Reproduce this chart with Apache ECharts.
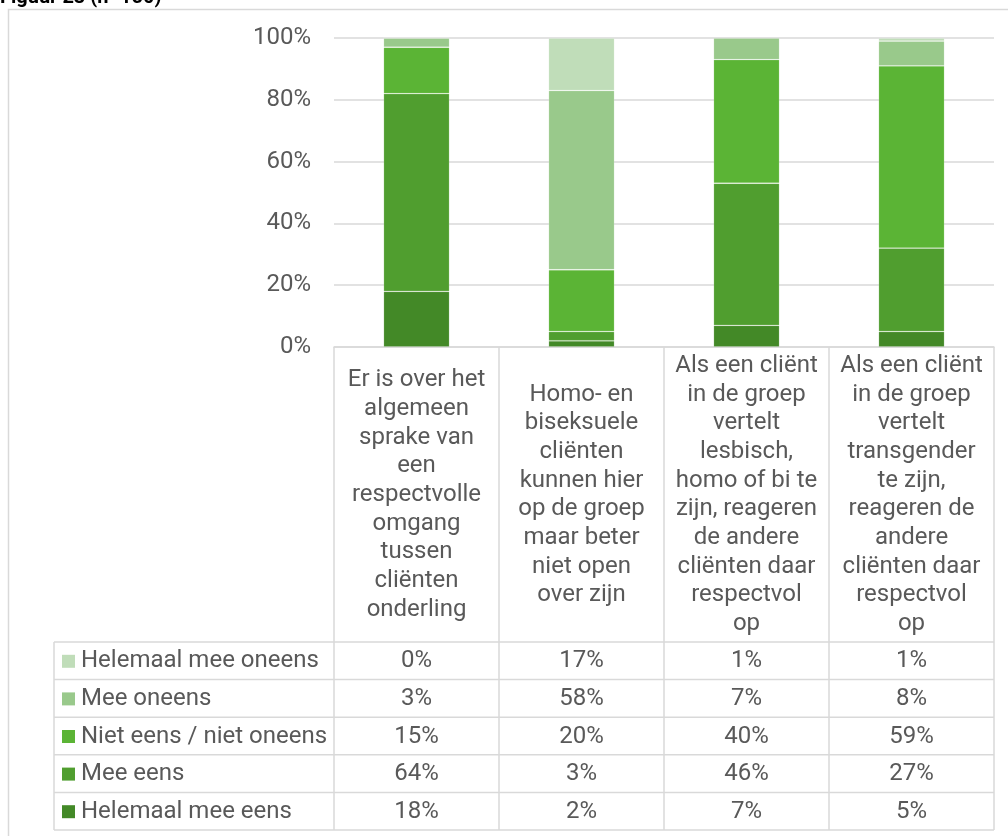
<!DOCTYPE html>
<html>
<head>
<meta charset="utf-8">
<script src="https://cdn.jsdelivr.net/npm/echarts@6/dist/echarts.min.js"></script>
<style>
  html, body { margin: 0; padding: 0; background: #ffffff; }
  #chart { width: 1008px; height: 836px; }
</style>
</head>
<body>
<div id="chart"></div>
<script>
// Statements (x-axis categories), wrapped as printed in the table header
const categories = [
  'Er is over het\nalgemeen\nsprake van\neen\nrespectvolle\nomgang\ntussen\ncliënten\nonderling',
  'Homo- en\nbiseksuele\ncliënten\nkunnen hier\nop de groep\nmaar beter\nniet open\nover zijn',
  'Als een cliënt\nin de groep\nvertelt\nlesbisch,\nhomo of bi te\nzijn, reageren\nde andere\ncliënten daar\nrespectvol\nop',
  'Als een cliënt\nin de groep\nvertelt\ntransgender\nte zijn,\nreageren de\nandere\ncliënten daar\nrespectvol\nop'
];

// Answer shares in percent, one array per answer option
const helemaalMeeOneens   = [0, 17, 1, 1];
const meeOneens           = [3, 58, 7, 8];
const nietEensNietOneens  = [15, 20, 40, 59];
const meeEens             = [64, 3, 46, 27];
const helemaalMeeEens     = [18, 2, 7, 5];

const yTicks = [0, 20, 40, 60, 80, 100];

// Rows of the data table, top to bottom
const tableRows = [
  { name: 'Helemaal mee oneens',     values: helemaalMeeOneens,  color: '#C0DDB9' },
  { name: 'Mee oneens',              values: meeOneens,          color: '#99C98B' },
  { name: 'Niet eens / niet oneens', values: nietEensNietOneens, color: '#5BB435' },
  { name: 'Mee eens',                values: meeEens,            color: '#509E2F' },
  { name: 'Helemaal mee eens',       values: helemaalMeeEens,    color: '#438927' }
];

const FONT = 'Roboto, "Noto Sans", sans-serif';
const FS = 24;
const TEXT = '#595959';
const LINE = '#D9D9D9';

const chart = echarts.init(document.getElementById('chart'), null, { renderer: 'canvas' });

// Stack from the bottom: last table row first
const stackOrder = tableRows.slice().reverse();

const option = {
  animation: false,
  backgroundColor: '#ffffff',
  textStyle: { fontFamily: FONT },
  grid: { left: 334, right: 14, top: 38, bottom: 489, containLabel: false },
  xAxis: {
    type: 'category',
    data: categories,
    axisLine: { show: true, lineStyle: { color: LINE, width: 1.5 } },
    axisTick: { show: false },
    axisLabel: {
      interval: 0,
      margin: 148,
      verticalAlign: 'middle',
      align: 'center',
      color: TEXT,
      fontFamily: FONT,
      fontSize: FS,
      lineHeight: 28.7
    }
  },
  yAxis: {
    type: 'value',
    min: yTicks[0],
    max: yTicks[yTicks.length - 1],
    interval: yTicks[1] - yTicks[0],
    axisLine: { show: false },
    axisTick: { show: false },
    splitLine: { lineStyle: { color: LINE, width: 1.5 } },
    axisLabel: {
      margin: 23,
      color: TEXT,
      fontFamily: FONT,
      fontSize: FS,
      formatter: v => v + '%'
    }
  },
  series: stackOrder.map(r => ({
    name: r.name,
    type: 'bar',
    stack: 'total',
    barWidth: '40%',
    data: r.values,
    itemStyle: { color: r.color, borderColor: 'rgba(255,255,255,0.2)', borderWidth: 0.8 },
    emphasis: { disabled: true }
  }))
};

chart.setOption(option);

// Data table under the plot, aligned on the category bands
function buildTable() {
  const els = [];
  const left = 54;
  const bandStart = 334;
  const band = chart.convertToPixel({ xAxisIndex: 0 }, 1) - chart.convertToPixel({ xAxisIndex: 0 }, 0);
  const right = bandStart + band * categories.length;
  const axisY = chart.convertToPixel({ yAxisIndex: 0 }, 0);
  const top = 642;
  const rowH = 37.6;
  const lineStyle = { stroke: LINE, lineWidth: 1.5 };

  // outer frame
  els.push({ type: 'rect', shape: { x: 8.5, y: 9.5, width: 1010, height: 840 },
    style: { fill: null, stroke: LINE, lineWidth: 1.5 }, silent: true, z: 1 });

  // horizontal rules
  for (let k = 0; k <= tableRows.length; k++) {
    const y = top + k * rowH;
    els.push({ type: 'line', shape: { x1: left, y1: y, x2: right, y2: y }, style: lineStyle, silent: true, z: 2 });
  }
  // vertical rules
  els.push({ type: 'line', shape: { x1: left, y1: top, x2: left, y2: top + rowH * tableRows.length }, style: lineStyle, silent: true, z: 2 });
  for (let i = 0; i <= categories.length; i++) {
    const x = bandStart + i * band;
    els.push({ type: 'line', shape: { x1: x, y1: axisY, x2: x, y2: top + rowH * tableRows.length }, style: lineStyle, silent: true, z: 2 });
  }

  tableRows.forEach((row, k) => {
    const cy = top + k * rowH + rowH / 2 + 0.5;
    els.push({ type: 'rect', shape: { x: 62, y: cy - 6.5, width: 13, height: 13 },
      style: { fill: row.color }, silent: true, z: 3 });
    els.push({ type: 'text', x: 81, y: cy,
      style: { text: row.name, fill: TEXT, font: FS + 'px ' + FONT, textAlign: 'left', textVerticalAlign: 'middle' },
      silent: true, z: 3 });
    row.values.forEach((v, i) => {
      const cx = chart.convertToPixel({ xAxisIndex: 0 }, i);
      els.push({ type: 'text', x: cx, y: cy,
        style: { text: v + '%', fill: TEXT, font: FS + 'px ' + FONT, textAlign: 'center', textVerticalAlign: 'middle' },
        silent: true, z: 3 });
    });
  });

  // figure caption, partly above the page edge
  els.push({ type: 'text', x: 0, y: -2,
    style: { text: 'Figuur 23 (n=150)', fill: '#000000', font: 'bold 20px ' + FONT, textAlign: 'left', textVerticalAlign: 'middle' },
    silent: true, z: 3 });

  return els;
}

chart.setOption({ graphic: buildTable() });
</script>
</body>
</html>
